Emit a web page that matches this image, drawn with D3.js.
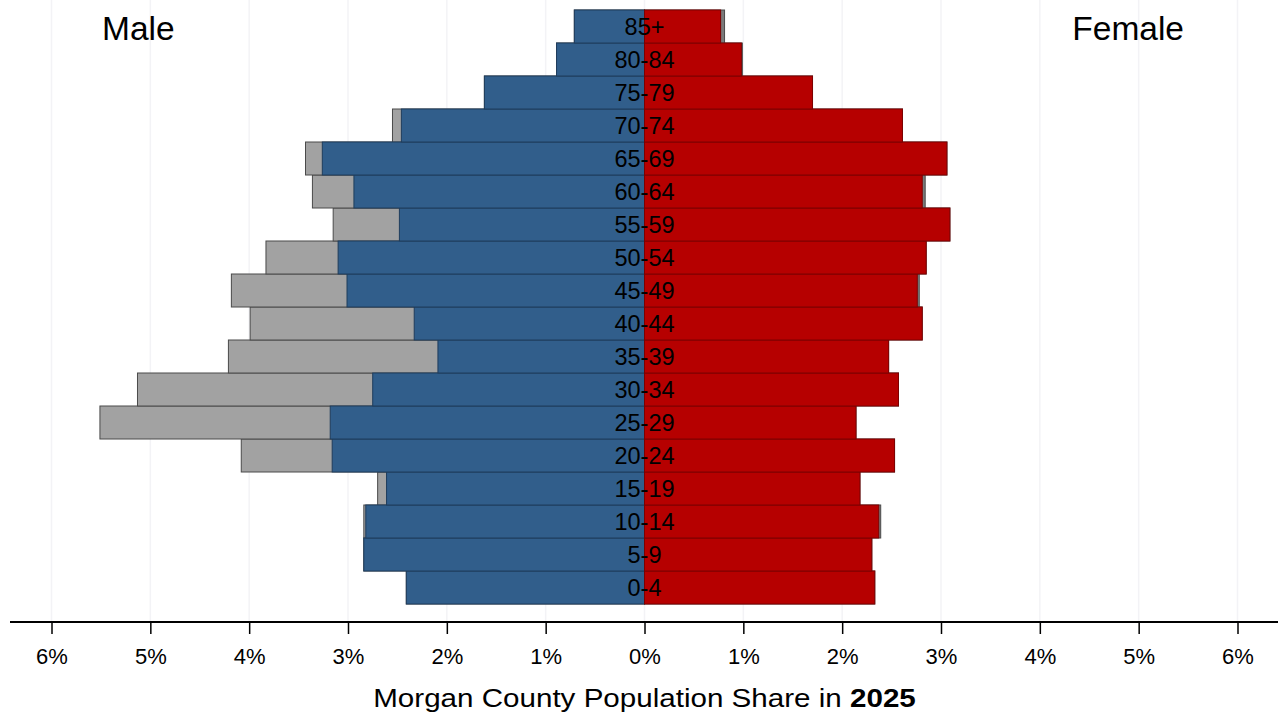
<!DOCTYPE html>
<html>
<head>
<meta charset="utf-8">
<script src="https://cdn.jsdelivr.net/npm/d3@7"></script>
<style>
  html, body { margin: 0; padding: 0; background: #fff; }
  svg { display: block; font-family: "Liberation Sans", Arial, sans-serif; }
</style>
</head>
<body>
<svg id="chart" width="1281" height="719"></svg>
<script>
// Age groups, bottom to top
const ages = ["0-4","5-9","10-14","15-19","20-24","25-29","30-34","35-39","40-44","45-49","50-54","55-59","60-64","65-69","70-74","75-79","80-84","85+"];
// Male share (blue) and male total incl. gray portion (percent)
const maleBlue  = [2.41, 2.84, 2.82, 2.61, 3.16, 3.18, 2.75, 2.09, 2.33, 3.01, 3.10, 2.48, 2.94, 3.26, 2.46, 1.62, 0.89, 0.71];
const maleTotal = [2.41, 2.84, 2.84, 2.70, 4.08, 5.51, 5.13, 4.21, 3.99, 4.18, 3.83, 3.15, 3.36, 3.43, 2.55, 1.62, 0.89, 0.71];
// Female share (red) and female total incl. gray portion (percent)
const femaleRed   = [2.33, 2.30, 2.37, 2.18, 2.53, 2.14, 2.57, 2.47, 2.81, 2.76, 2.85, 3.09, 2.81, 3.06, 2.61, 1.70, 0.98, 0.77];
const femaleTotal = [2.33, 2.30, 2.39, 2.18, 2.53, 2.14, 2.57, 2.47, 2.81, 2.78, 2.85, 3.09, 2.84, 3.06, 2.61, 1.70, 0.99, 0.81];
const tickValues = [-6,-5,-4,-3,-2,-1,0,1,2,3,4,5,6];
const tickLabels = ["6%","5%","4%","3%","2%","1%","0%","1%","2%","3%","4%","5%","6%"];

const svg = d3.select("#chart");

const x = d3.scaleLinear().domain([-6, 6]).range([51.5, 1237.5]);
const y = d3.scaleBand().domain(ages.slice().reverse()).range([10, 604]).padding(0);

const rows = ages.map((a, i) => ({
  age: a, mb: maleBlue[i], mt: maleTotal[i], fr: femaleRed[i], ft: femaleTotal[i]
}));

// faint gridlines
svg.append("g").selectAll("line").data(tickValues).join("line")
  .attr("x1", d => x(d)).attr("x2", d => x(d))
  .attr("y1", 0).attr("y2", 621)
  .attr("stroke", "#f3f3f6").attr("stroke-width", 1.5);

const bars = svg.append("g");

// gray totals (behind)
bars.selectAll("rect.mgray").data(rows).join("rect").attr("class","mgray")
  .attr("x", d => x(-d.mt)).attr("width", d => x(0) - x(-d.mt))
  .attr("y", d => y(d.age)).attr("height", y.bandwidth())
  .attr("fill", "#a2a2a2").attr("stroke", "#4a4a4a").attr("stroke-width", 1);

bars.selectAll("rect.fgray").data(rows).join("rect").attr("class","fgray")
  .attr("x", x(0)).attr("width", d => x(d.ft) - x(0))
  .attr("y", d => y(d.age)).attr("height", y.bandwidth())
  .attr("fill", "#7a7a7a").attr("stroke", "#4a4a4a").attr("stroke-width", 1);

// blue male
bars.selectAll("rect.male").data(rows).join("rect").attr("class","male")
  .attr("x", d => x(-d.mb)).attr("width", d => x(0) - x(-d.mb))
  .attr("y", d => y(d.age)).attr("height", y.bandwidth())
  .attr("fill", "#315e8b").attr("stroke", "#1f3d5c").attr("stroke-width", 1);

// red female
bars.selectAll("rect.female").data(rows).join("rect").attr("class","female")
  .attr("x", x(0)).attr("width", d => x(d.fr) - x(0))
  .attr("y", d => y(d.age)).attr("height", y.bandwidth())
  .attr("fill", "#b60000").attr("stroke", "#7d0000").attr("stroke-width", 1);

// age labels
svg.append("g").selectAll("text").data(rows).join("text")
  .attr("x", x(0)).attr("y", d => y(d.age) + y.bandwidth() / 2 + 8.5)
  .attr("text-anchor", "middle")
  .attr("font-size", "23.5px").attr("fill", "#000")
  .text(d => d.age);

// axis
const axis = d3.axisBottom(x).tickValues(tickValues)
  .tickFormat((d, i) => tickLabels[i]).tickSize(12).tickPadding(14);
const gA = svg.append("g").attr("transform", "translate(0,622)").call(axis);
gA.select(".domain").remove();
gA.selectAll(".tick line").attr("stroke", "#000").attr("stroke-width", 1.5);
gA.selectAll(".tick text").attr("font-size", "22px").attr("fill", "#000")
  .attr("font-family", "'Liberation Sans', Arial, sans-serif");
svg.append("line").attr("x1", 10).attr("x2", 1278).attr("y1", 622).attr("y2", 622)
  .attr("stroke", "#000").attr("stroke-width", 2);

// titles
svg.append("text").attr("x", 102).attr("y", 40).attr("font-size", "33.5px").text("Male");
svg.append("text").attr("x", 1184).attr("y", 40).attr("text-anchor", "end").attr("font-size", "33.5px").text("Female");

const t = svg.append("text").attr("transform", "translate(644.5,707) scale(1.184,1)")
  .attr("text-anchor", "middle").attr("font-size", "25px");
t.append("tspan").text("Morgan County Population Share in ");
t.append("tspan").attr("font-weight", "bold").text("2025");
</script>
</body>
</html>
